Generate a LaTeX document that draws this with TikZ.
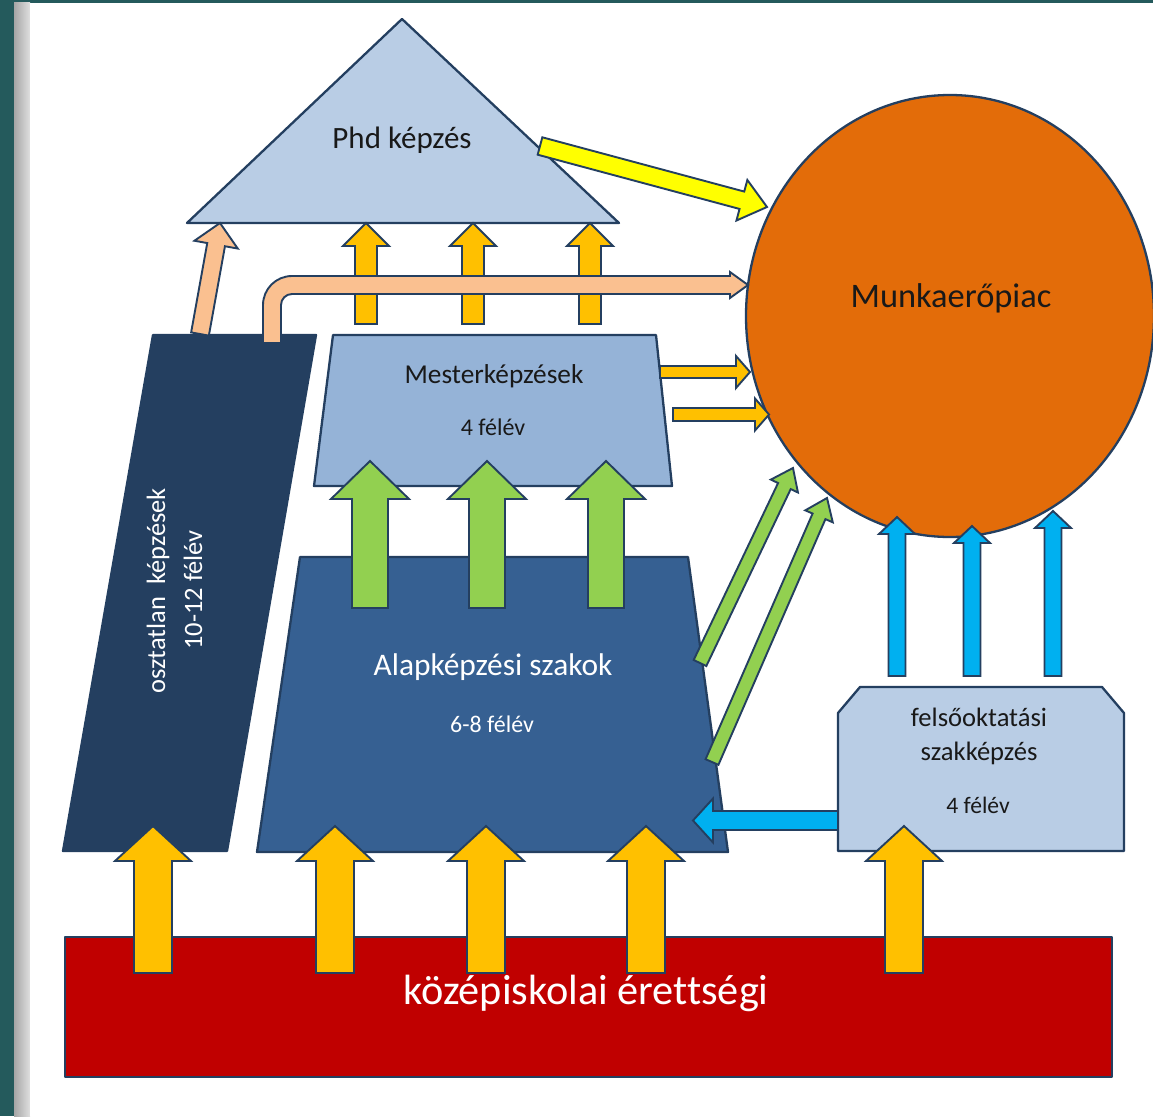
\documentclass[tikz,border=0pt]{standalone}
\usepackage{fontspec}
\setmainfont{Carlito}[Ligatures=CommonOff]
\usetikzlibrary{calc}
\usetikzlibrary{positioning}

\definecolor{slidebg}{HTML}{245A5C}
\definecolor{outline}{HTML}{243F60}
\definecolor{phdfill}{HTML}{B9CDE5}
\definecolor{mesterfill}{HTML}{95B3D7}
\definecolor{alapfill}{HTML}{366092}
\definecolor{osztfill}{HTML}{243F60}
\definecolor{munkafill}{HTML}{E36C09}
\definecolor{erettfill}{HTML}{C00000}
\definecolor{gold}{HTML}{FFC000}
\definecolor{peach}{HTML}{FAC090}
\definecolor{lime}{HTML}{92D050}
\definecolor{sky}{HTML}{00B0F0}
\definecolor{lemon}{HTML}{FFFF00}

\newcommand{\fsz}[1]{\fontsize{#1pt}{#1pt}\selectfont}
% block arrow: from, to, fill, shaft half, head half, head length
\newcommand{\blkarrow}[6]{%
  \coordinate (hb) at ($(#2)!#6!(#1)$);
  \draw[arrowline, fill=#3] ($(#1)!#4!90:(#2)$) -- ($(hb)!#4!-90:(#1)$)
    -- ($(hb)!#5!-90:(#1)$) -- (#2) -- ($(hb)!#5!90:(#1)$)
    -- ($(hb)!#4!90:(#1)$) -- ($(#1)!#4!-90:(#2)$) -- cycle;}

\begin{document}
\begin{tikzpicture}[x=1pt, y=-1pt,
    blockshape/.style={draw=outline, line width=2.3pt, line join=round},
    arrowline/.style={draw=outline, line width=1.9pt},
    darktext/.style={text=black!90, align=center},
    lighttext/.style={text=white, align=center}]
    \useasboundingbox (0,0) rectangle (1153,1116);
    \fill[slidebg] (0,0) rectangle (1153,1116);
    \shade[left color=gray!70, right color=gray!25] (14,3) rectangle (30,1116);
    \fill[white] (30,3) rectangle (1153,1116);

    % shapes
    \filldraw[blockshape, fill=phdfill] (402,19) -- (619,223) -- (187,223) -- cycle;
    \filldraw[blockshape, fill=munkafill] (950,316) ellipse (204 and 221);
    \filldraw[blockshape, fill=osztfill] (153,335) -- (316,335) -- (227,851) -- (63,851) -- cycle;
    \filldraw[blockshape, fill=mesterfill] (333,335) -- (656,335) -- (672,486) -- (314,486) -- cycle;
    \filldraw[blockshape, fill=alapfill] (300,557) -- (688,557) -- (728,852) -- (257,852) -- cycle;
    \filldraw[blockshape, fill=phdfill] (838,851) -- (838,713) -- (860,687) -- (1102,687)
        -- (1124,713) -- (1124,851) -- cycle;
    \filldraw[blockshape, fill=erettfill] (65,937) rectangle (1112,1077);

    % labels
    \node[darktext, font=\fsz{31}] (phd) at (402,140) {Phd képzés};
    \node[darktext, font=\fsz{34.4}] (munka) at (951,298) {Munkaerőpiac};
    \node[darktext, font=\fsz{27.3}] (mester) at (494,376) {Mesterképzések};
    \node[darktext, font=\fsz{24}] (mesterfelev) at (493,427) {4 félév};
    \node[lighttext, font=\fsz{31.4}] (alap) at (493,667) {Alapképzési szakok};
    \node[lighttext, font=\fsz{23.9}] (alapfelev) at (492,724) {6-8 félév};
    \node[lighttext, font=\fsz{26.5}, rotate=90] (osztatlan) at (158,591) {osztatlan\ \ képzések};
    \node[lighttext, font=\fsz{26.5}, rotate=90] (osztfelev) at (193,590) {10-12 félév};
    \node[darktext, font=\fsz{26.6}] (felso) at (979,717) {felsőoktatási};
    \node[darktext, font=\fsz{26.6}] (szakk) at (979,753) {szakképzés};
    \node[darktext, font=\fsz{23.6}] (felsofelev) at (978,805) {4 félév};
    \node[lighttext, font=\fsz{42.3}] (erett) at (586,993) {középiskolai érettségi};

    % érettségi -> képzések
    \foreach \x/\n in {153/a, 335/b, 486/c, 646/d, 904/e} {
        \coordinate (er\n) at (\x,973);
        \coordinate (up\n) at (\x,826);
        \blkarrow{er\n}{up\n}{gold}{19pt}{38pt}{35pt}
    }
    % alap -> mester
    \foreach \x/\n in {370/a, 487/b, 606/c} {
        \coordinate (al\n) at (\x,608);
        \coordinate (me\n) at (\x,461);
        \blkarrow{al\n}{me\n}{lime}{18pt}{39pt}{38pt}
    }
    % mester -> phd
    \foreach \x/\n in {366/a, 473/b, 590/c} {
        \coordinate (mt\n) at (\x,324);
        \coordinate (ph\n) at (\x,223);
        \blkarrow{mt\n}{ph\n}{gold}{11pt}{23pt}{23pt}
    }
    % osztatlan -> phd
    \coordinate (oszttop) at (200,334);
    \coordinate (phdbase) at (220,223);
    \blkarrow{oszttop}{phdbase}{peach}{9pt}{22pt}{22pt}
    % osztatlan -> munkaerőpiac (bent)
    \coordinate (osztbend) at (272,343);
    \coordinate (munkaleft) at (748,285);
    \draw[arrowline, fill=peach] ($(osztbend)+(-9,0)$) [rounded corners=29pt]
        -- ($(osztbend|-munkaleft)+(-9,-9)$) [sharp corners] -- ($(munkaleft)+(-18,-9)$)
        -- ($(munkaleft)+(-18,-13)$) -- (munkaleft) -- ($(munkaleft)+(-18,13)$)
        -- ($(munkaleft)+(-18,9)$) [rounded corners=11pt] -- ($(osztbend|-munkaleft)+(9,9)$)
        [sharp corners] -- ($(osztbend)+(9,0)$) -- cycle;
    % phd -> munkaerőpiac
    \coordinate (phdright) at (540,146);
    \coordinate (munkatop) at (767,207);
    \blkarrow{phdright}{munkatop}{lemon}{9pt}{21pt}{26pt}
    % mester -> munkaerőpiac
    \coordinate (mra) at (660,372);   \coordinate (mka) at (750,372);
    \coordinate (mrb) at (673,414.5); \coordinate (mkb) at (769,414.5);
    \blkarrow{mra}{mka}{gold}{6pt}{16pt}{14pt}
    \blkarrow{mrb}{mkb}{gold}{6.5pt}{16pt}{14pt}
    % alap -> munkaerőpiac
    \coordinate (ala) at (700,663); \coordinate (mua) at (793,468);
    \coordinate (alb) at (712,762); \coordinate (mub) at (827,498);
    \blkarrow{ala}{mua}{lime}{7pt}{15pt}{20pt}
    \blkarrow{alb}{mub}{lime}{7pt}{15pt}{20pt}
    % felsőoktatási -> munkaerőpiac
    \foreach \x/\y/\n in {897/517/a, 972/526/b, 1053/511/c} {
        \coordinate (fs\n) at (\x,676);
        \coordinate (mk\n) at (\x,\y);
        \blkarrow{fs\n}{mk\n}{sky}{8.5pt}{18pt}{17pt}
    }
    % felsőoktatási -> alap
    \coordinate (felsoleft) at (838,820.5);
    \coordinate (alapright) at (693,820.5);
    \blkarrow{felsoleft}{alapright}{sky}{9.5pt}{22pt}{20pt}
\end{tikzpicture}
\end{document}
